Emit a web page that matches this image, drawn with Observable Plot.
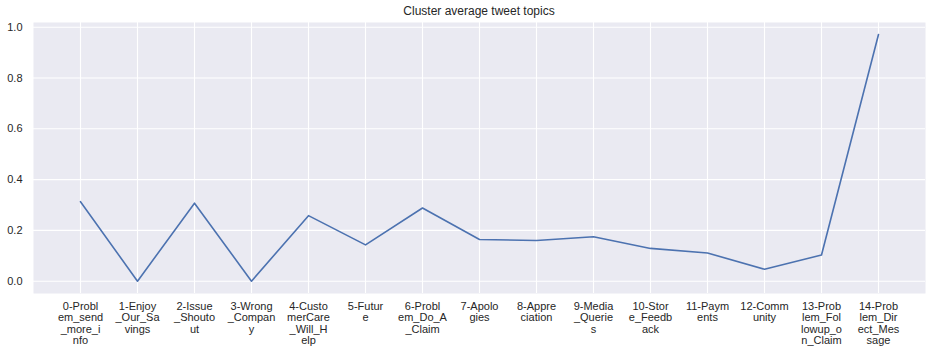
<!DOCTYPE html>
<html>
<head>
<meta charset="utf-8">
<script src="https://cdn.jsdelivr.net/npm/d3@7"></script>
<script src="https://cdn.jsdelivr.net/npm/@observablehq/plot@0.6"></script>
<style>
  html, body { margin: 0; padding: 0; background: #ffffff; }
  #wrap { width: 938px; height: 354px; position: relative; font-family: "Liberation Sans", Arial, sans-serif; color: #262626; }
  #title { position: absolute; left: 33px; width: 892px; top: 0; height: 22px; line-height: 22px; text-align: center; font-size: 12px; color: #262626; }
  #chart { position: absolute; left: 0; top: 20px; }
</style>
</head>
<body>
<div id="wrap">
  <div id="title">Cluster average tweet topics</div>
  <div id="chart"></div>
</div>
<script>
const categories = [
  "0-Problem_send_more_info",
  "1-Enjoy_Our_Savings",
  "2-Issue_Shoutout",
  "3-Wrong_Company",
  "4-CustomerCare_Will_Help",
  "5-Future",
  "6-Problem_Do_A_Claim",
  "7-Apologies",
  "8-Appreciation",
  "9-Media_Queries",
  "10-Store_Feedback",
  "11-Payments",
  "12-Community",
  "13-Problem_Followup_on_Claim",
  "14-Problem_Direct_Message"
];
const values = [0.313, 0.0, 0.307, 0.0, 0.258, 0.143, 0.288, 0.164, 0.160, 0.175, 0.129, 0.111, 0.047, 0.103, 0.971];
const yTicks = [0.0, 0.2, 0.4, 0.6, 0.8, 1.0];

const data = categories.map((c, i) => ({name: c, value: values[i]}));
const wrap = s => (s.match(/.{1,7}/g) || [s]).join("\n");
const yFmt = d3.format(".1f");

const hasAxisMarks = typeof Plot.axisX === "function";
const baseMarks = [
  Plot.frame({fill: "#EAEAF2", stroke: null}),
  Plot.ruleY(yTicks, {stroke: "#ffffff", strokeWidth: 1.1}),
  Plot.ruleX(categories, {stroke: "#ffffff", strokeWidth: 1.1}),
  Plot.line(data, {x: "name", y: "value", stroke: "#4C72B0", strokeWidth: 1.6})
];
const axisMarks = hasAxisMarks ? [
  Plot.axisX({tickSize: 0, tickPadding: 8, tickFormat: wrap, fontSize: 11, lineHeight: 1.04, label: null, fill: "#262626"}),
  Plot.axisY({ticks: yTicks, tickSize: 0, tickPadding: 11, tickFormat: yFmt, fontSize: 11, label: null, fill: "#262626"})
] : [];

const chart = Plot.plot({
  width: 938,
  height: 334,
  marginTop: 2,
  marginBottom: 61,
  marginLeft: 33,
  marginRight: 13,
  style: {fontFamily: "Liberation Sans, Arial, sans-serif", fontSize: "11px", color: "#262626", background: "transparent"},
  x: {type: "point", domain: categories, padding: 0.7, label: null, tickSize: 0, tickPadding: 8, tickFormat: wrap},
  y: {domain: [-0.0485, 1.0185], ticks: yTicks, tickFormat: yFmt, label: null, tickSize: 0, tickPadding: 11},
  marks: [...baseMarks, ...axisMarks]
});
document.getElementById("chart").appendChild(chart);
</script>
</body>
</html>
